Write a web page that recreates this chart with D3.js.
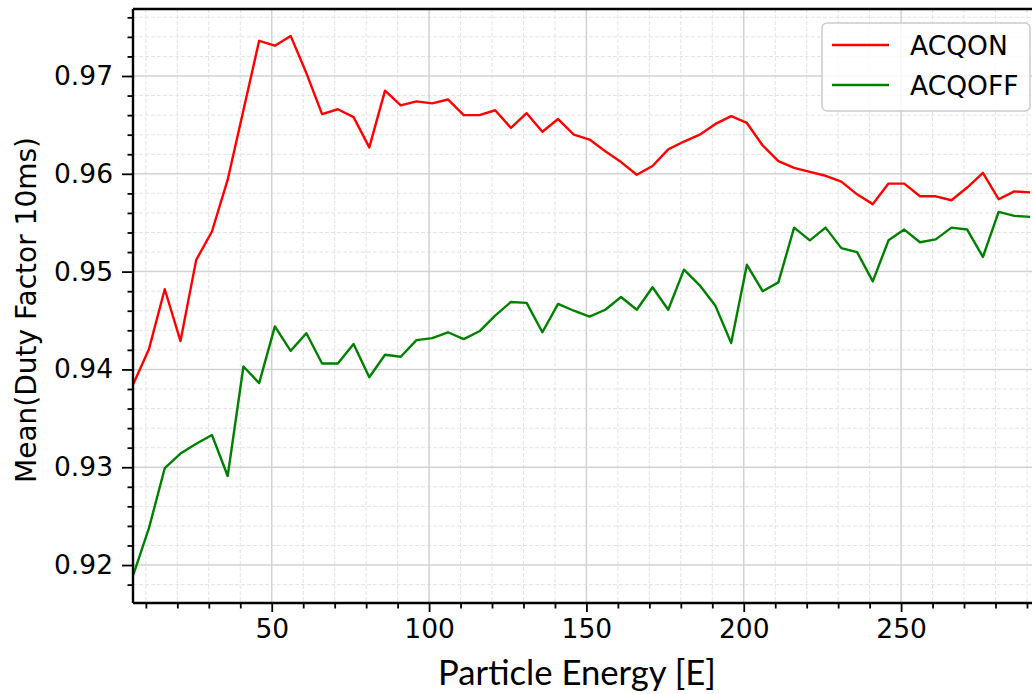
<!DOCTYPE html>
<html>
<head>
<meta charset="utf-8">
<script src="https://cdn.jsdelivr.net/npm/d3@7"></script>
<style>
  html, body { margin: 0; padding: 0; background: #fff; }
  svg { display: block; }
  .dv { font-family: "DejaVu Sans", Verdana, sans-serif; font-size: 26.5px; }
  .dvl { font-family: "DejaVu Sans", Verdana, sans-serif; font-size: 28px; }
</style>
</head>
<body>
<svg id="chart" width="1032" height="694"></svg>
<script>
const energies = [6, 11, 16, 21, 26, 31, 36, 41, 46, 51, 56, 61, 66, 71, 76, 81, 86, 91, 96, 101,
  106, 111, 116, 121, 126, 131, 136, 141, 146, 151, 156, 161, 166, 171, 176, 181, 186, 191, 196, 201,
  206, 211, 216, 221, 226, 231, 236, 241, 246, 251, 256, 261, 266, 271, 276, 281, 286, 291];

const acqOn = [0.9385, 0.9421, 0.9482, 0.9429, 0.9512, 0.9541, 0.9594, 0.9665, 0.9736, 0.9731,
  0.9741, 0.9703, 0.9661, 0.9666, 0.9658, 0.9627, 0.9685, 0.9670, 0.9674, 0.9672,
  0.9676, 0.9660, 0.9660, 0.9665, 0.9647, 0.9662, 0.9643, 0.9656, 0.9640, 0.9635,
  0.9623, 0.9612, 0.9599, 0.9608, 0.9625, 0.9633, 0.9640, 0.9651, 0.9659, 0.9652,
  0.9629, 0.9613, 0.9606, 0.9602, 0.9598, 0.9592, 0.9579, 0.9569, 0.9590, 0.9590,
  0.9577, 0.9577, 0.9573, 0.9586, 0.9601, 0.9574, 0.9582, 0.9581];

const acqOff = [0.9190, 0.9238, 0.9299, 0.9314, 0.9324, 0.9333, 0.9291, 0.9403, 0.9386, 0.9444,
  0.9419, 0.9437, 0.9406, 0.9406, 0.9426, 0.9392, 0.9415, 0.9413, 0.9430, 0.9432,
  0.9438, 0.9431, 0.9439, 0.9455, 0.9469, 0.9468, 0.9438, 0.9467, 0.9460, 0.9454,
  0.9461, 0.9474, 0.9461, 0.9484, 0.9461, 0.9502, 0.9486, 0.9465, 0.9427, 0.9507,
  0.9480, 0.9489, 0.9545, 0.9532, 0.9545, 0.9524, 0.9520, 0.9490, 0.9532, 0.9543,
  0.9530, 0.9533, 0.9545, 0.9543, 0.9515, 0.9561, 0.9557, 0.9556];

const seriesNames = ["ACQON", "ACQOFF"];
const seriesColors = ["#ff0000", "#008000"];
const xTickValues = [50, 100, 150, 200, 250];
const yTickValues = [0.92, 0.93, 0.94, 0.95, 0.96, 0.97];
const xLabel = "Particle Energy [E]";
const yLabel = "Mean(Duty Factor 10ms)";

(function () {
const svg = d3.select("#chart");
const L = 133, T = 9, B = 603, R = 1032;

const x = d3.scaleLinear().domain([5.91, 291.6]).range([L, R]);
const y = d3.scaleLinear().domain([0.91612, 0.97685]).range([B, T]);

const xMinor = d3.range(10, 292, 10).filter(v => v % 50 !== 0);
const yMinor = d3.range(916, 977, 2).filter(v => v % 10 !== 0).map(v => v / 1000)
  .filter(v => v >= 0.91612 && v <= 0.97685);

// Grid
const grid = svg.append("g");
grid.selectAll(".xminor").data(xMinor).join("line")
  .attr("x1", d => x(d)).attr("x2", d => x(d)).attr("y1", T).attr("y2", B)
  .attr("stroke", "#e2e2e2").attr("stroke-width", 1).attr("stroke-dasharray", "4,2");
grid.selectAll(".yminor").data(yMinor).join("line")
  .attr("x1", L).attr("x2", R).attr("y1", d => y(d)).attr("y2", d => y(d))
  .attr("stroke", "#e2e2e2").attr("stroke-width", 1).attr("stroke-dasharray", "4,2");
grid.selectAll(".xmajor").data(xTickValues).join("line")
  .attr("x1", d => x(d)).attr("x2", d => x(d)).attr("y1", T).attr("y2", B)
  .attr("stroke", "#d2d2d2").attr("stroke-width", 1.5);
grid.selectAll(".ymajor").data(yTickValues).join("line")
  .attr("x1", L).attr("x2", R).attr("y1", d => y(d)).attr("y2", d => y(d))
  .attr("stroke", "#d2d2d2").attr("stroke-width", 1.5);

// Lines
svg.append("clipPath").attr("id", "clip").append("rect")
  .attr("x", L).attr("y", T).attr("width", R - L).attr("height", B - T);
const line = d3.line().x((d, i) => x(energies[i])).y(d => y(d));
[acqOn, acqOff].forEach((s, k) => {
  svg.append("path").datum(s).attr("d", line).attr("fill", "none")
    .attr("stroke", seriesColors[k]).attr("stroke-width", 2.4)
    .attr("stroke-linejoin", "round").attr("clip-path", "url(#clip)");
});

// Axes
const xAxis = d3.axisBottom(x).tickValues(xTickValues).tickSize(9).tickPadding(7).tickFormat(d3.format("d"));
svg.append("g").attr("transform", `translate(0,${B})`).call(xAxis);
const xAxisMinor = d3.axisBottom(x).tickValues(xMinor).tickSize(5.5).tickFormat("");
svg.append("g").attr("transform", `translate(0,${B})`).call(xAxisMinor);

const yAxis = d3.axisLeft(y).tickValues(yTickValues).tickSize(11).tickPadding(9).tickFormat(d3.format(".2f"));
svg.append("g").attr("transform", `translate(${L},0)`).call(yAxis);
const yAxisMinor = d3.axisLeft(y).tickValues(yMinor).tickSize(5.5).tickFormat("");
svg.append("g").attr("transform", `translate(${L},0)`).call(yAxisMinor);

svg.selectAll(".domain").remove();
svg.selectAll("g").attr("font-family", null).attr("font-size", null);
svg.selectAll(".tick line").attr("stroke", "#000").attr("stroke-width", 1.8);
svg.selectAll(".tick text").attr("class", "dv").attr("fill", "#000");

// Spines
svg.append("line").attr("x1", L).attr("x2", R).attr("y1", B).attr("y2", B)
  .attr("stroke", "#000").attr("stroke-width", 2.4);
svg.append("line").attr("x1", L).attr("x2", R).attr("y1", T).attr("y2", T)
  .attr("stroke", "#000").attr("stroke-width", 2.4);
svg.append("line").attr("x1", L).attr("x2", L).attr("y1", T).attr("y2", B)
  .attr("stroke", "#000").attr("stroke-width", 2.4);

// Axis labels
const xl = svg.append("text").text(xLabel)
  .attr("x", 577).attr("y", 685).attr("text-anchor", "middle")
  .style("font-family", "Lato, 'Open Sans', sans-serif").style("font-size", "31px").attr("fill", "#000");
const w = xl.node().getComputedTextLength();
if (w > 0) xl.style("font-size", (31 * 278 / w).toFixed(2) + "px");

svg.append("text").text(yLabel).attr("class", "dvl")
  .attr("transform", "translate(36,310) rotate(-90)").attr("text-anchor", "middle")
  .attr("fill", "#000");

// Legend
const lg = svg.append("g");
lg.append("rect").attr("x", 822).attr("y", 23).attr("width", 208).attr("height", 88)
  .attr("rx", 5).attr("fill", "#fff").attr("fill-opacity", 0.8)
  .attr("stroke", "#cccccc").attr("stroke-width", 1.5);
seriesNames.forEach((n, k) => {
  const yy = 45 + k * 40;
  lg.append("line").attr("x1", 832).attr("x2", 889).attr("y1", yy).attr("y2", yy)
    .attr("stroke", seriesColors[k]).attr("stroke-width", 2.4);
  lg.append("text").text(n).attr("class", "dv").attr("x", 910).attr("y", yy + 10)
    .attr("fill", "#000");
});
})();
</script>
</body>
</html>
